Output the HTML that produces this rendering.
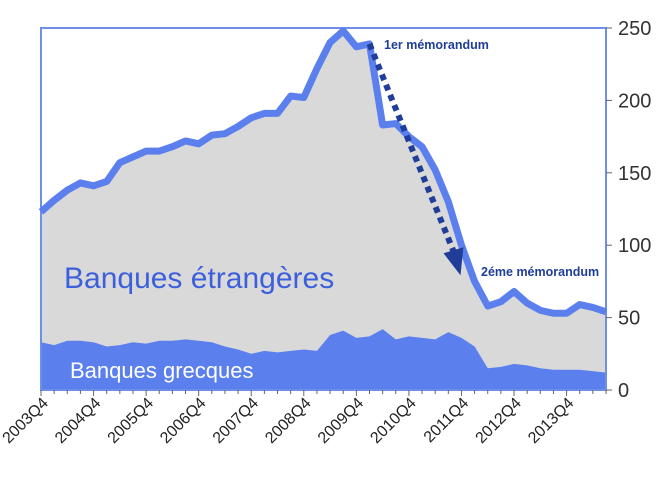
<!DOCTYPE html>
<html><head><meta charset="utf-8"><style>
body{margin:0;background:#fff;width:672px;height:477px;overflow:hidden}
svg{display:block;font-family:"Liberation Sans",sans-serif}
</style></head><body>
<svg id="chart" width="672" height="477" viewBox="0 0 672 477"></svg>
<script>
const quarters=[];for(let y=2003,q=4,i=0;i<44;i++){quarters.push(y+"Q"+q);q++;if(q>4){q=1;y++;}}
const foreignValues=[123,131,138,143,141,144,157,161,165,165,168,172,170,176,177,182,188,191,191,203,202,222,240,248,237,239,183,184,175,168,152,130,100,75,58,61,68,60,55,53,53,59,57,54];
const greekValues=[33,31,34,34,33,30,31,33,32,34,34,35,34,33,30,28,25,27,26,27,28,27,38,41,36,37,42,35,37,36,35,40,36,30,15,16,18,17,15,14,14,14,13,12];
const yTicks=[0,50,100,150,200,250];
const xLabels=["2003Q4","2004Q4","2005Q4","2006Q4","2007Q4","2008Q4","2009Q4","2010Q4","2011Q4","2012Q4","2013Q4"];
const X0=41,X1=606,Y0=390,Y1=28;
const sx=i=>X0+i*(X1-X0)/(quarters.length-1);
const sy=v=>Y0-v*(Y0-Y1)/250;
const svg=document.getElementById('chart');const NS="http://www.w3.org/2000/svg";
function mk(t,a,p){const e=document.createElementNS(NS,t);for(const k in a)e.setAttribute(k,a[k]);(p||svg).appendChild(e);return e;}
// foreign area
let d="M"+sx(0)+","+Y0;foreignValues.forEach((v,i)=>d+=" L"+sx(i)+","+sy(v));d+=" L"+sx(foreignValues.length-1)+","+Y0+"Z";
let e=mk('path',{d:d,fill:'#d9d9d9'});


d="M"+sx(0)+","+Y0;greekValues.forEach((v,i)=>d+=" L"+sx(i)+","+sy(v));d+=" L"+sx(greekValues.length-1)+","+Y0+"Z";
e=mk('path',{d:d,fill:'#5b80ee'});


// frame
e=mk('rect',{x:X0,y:Y1,width:X1-X0,height:Y0-Y1,fill:'none',stroke:'#6e8ee8','stroke-width':2});


// foreign line
e=mk('polyline',{points:foreignValues.map((v,i)=>sx(i)+","+sy(v)).join(" "),fill:'none',stroke:'#5b80ee','stroke-width':7,'stroke-linejoin':'round'});


// y ticks
yTicks.forEach(t=>{
 let l=mk('line',{x1:X1,x2:X1+6,y1:sy(t),y2:sy(t),stroke:'#666'});
 
 
 let tx=mk('text',{x:X1+12,y:sy(t)+7,'font-size':20,fill:'#333'});tx.textContent=t;
 
 
});
// x ticks
quarters.forEach((q,i)=>{
 let l=mk('line',{x1:sx(i),x2:sx(i),y1:Y0,y2:Y0+(q.endsWith('Q4')?6:4),stroke:'#666'});
 
 
});
xLabels.forEach(lab=>{
 const i=quarters.indexOf(lab);
 let tx=mk('text',{x:sx(i)+8,y:Y0+14,'font-size':16,fill:'#222','text-anchor':'end',transform:`rotate(-45 ${sx(i)+8} ${Y0+14})`});tx.textContent=lab;
 
 
});
// arrow
const ax1=sx(25),ay1=sy(239),ax2=sx(32)-2,ay2=sy(100)+22;
e=mk('line',{x1:ax1,y1:ay1,x2:ax2-6,y2:ay2-16,stroke:'#1f3d99','stroke-width':6,'stroke-dasharray':'6 5'});


e=mk('polygon',{points:`${ax2+1},${ay2+8} ${ax2-16},${ay2-14} ${ax2+4},${ay2-20}`,fill:'#1f3d99'});


e=mk('text',{x:384,y:49,'font-size':12.5,'font-weight':'bold',fill:'#1f3d99'});e.textContent="1er mémorandum";


e=mk('text',{x:481,y:276,'font-size':12.5,'font-weight':'bold',fill:'#1f3d99'});e.textContent="2éme mémorandum";


e=mk('text',{x:64,y:288,'font-size':30,fill:'#3c5fdc'});e.textContent="Banques étrangères";


e=mk('text',{x:70,y:378,'font-size':22,fill:'#fff'});e.textContent="Banques grecques";


</script>
</body></html>
